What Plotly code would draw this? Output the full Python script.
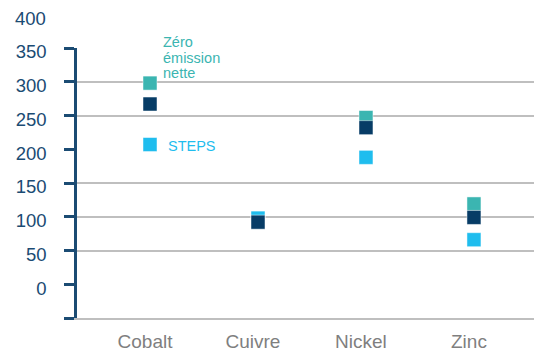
import plotly.graph_objects as go

# Demand by metal and scenario
metals = ["Cobalt", "Cuivre", "Nickel", "Zinc"]
zero_emission = [298, 94, 247, 119]
engagements = [267, 92, 232, 99]
steps = [207, 98, 188, 66]

y_ticks = [-50, 0, 50, 100, 150, 200, 250, 300, 350]
y_tick_text = ["", "0", "50", "100", "150", "200", "250", "300", "350"]
grid_vals = [50, 100, 150, 250, 300, 350]
top_label = 400
zero_label_lines = ["Zéro", "émission", "nette"]

TEAL = "#3bb5b1"
NAVY = "#073c66"
SKY = "#1fbdee"
AXIS_BLUE = "#1b4b73"
GREY = "#bfbfbf"
FONT = "Liberation Sans, Arial, sans-serif"

x_idx = list(range(len(metals)))

fig = go.Figure()
for name, vals, color in [
    ("Zéro émission nette", zero_emission, TEAL),
    ("STEPS", steps, SKY),
    ("Engagements annoncés", engagements, NAVY),
]:
    fig.add_trace(go.Scatter(
        x=x_idx, y=vals, mode="markers", name=name,
        marker=dict(symbol="square", size=14, color=color,
                    line=dict(width=0.6, color="rgba(255,255,255,0.8)")),
        cliponaxis=False,
    ))

# invisible trace on the overlaid axis carrying the grid
fig.add_trace(go.Scatter(x=[0], y=[0], yaxis="y2", mode="markers",
                         marker=dict(opacity=0), showlegend=False, hoverinfo="skip"))

y_range = [-50, 350]
fig.update_layout(
    width=534, height=351,
    margin=dict(l=77, r=0, t=48, b=33),
    paper_bgcolor="white", plot_bgcolor="white",
    showlegend=False,
    font=dict(family=FONT),
    xaxis=dict(
        range=[-0.676, 3.556], tickvals=x_idx, ticktext=metals,
        showgrid=False, zeroline=False,
        showline=True, linecolor=GREY, linewidth=1.5,
        ticks="", tickfont=dict(size=19, color="#7f7f7f"),
        ticklabelstandoff=5, ticklabelshift=-5,
    ),
    yaxis=dict(
        range=y_range, tickvals=y_ticks, ticktext=y_tick_text,
        showgrid=False, zeroline=False,
        showline=True, linecolor=AXIS_BLUE, linewidth=2.5,
        ticks="outside", ticklen=10, tickwidth=2.5, tickcolor=AXIS_BLUE,
        tickfont=dict(size=18.5, color=AXIS_BLUE),
        ticklabelstandoff=14, ticklabelshift=4,
    ),
    yaxis2=dict(
        range=y_range, overlaying="y", tickvals=grid_vals,
        showticklabels=False, showgrid=True, gridcolor=GREY, gridwidth=1.6,
        zeroline=False, showline=False, ticks="",
    ),
)

# top value label above the axis line
fig.add_annotation(
    x=0, xref="paper", xanchor="right", xshift=-29,
    y=(top_label - y_range[0]) / (y_range[1] - y_range[0]), yref="paper",
    yanchor="middle", yshift=-4,
    text=str(top_label), showarrow=False,
    font=dict(size=18.5, color=AXIS_BLUE, family=FONT),
)

# series labels, set line by line for a tight leading
for i, line in enumerate(zero_label_lines):
    fig.add_annotation(
        x=0, xref="x", xanchor="left", xshift=11,
        y=zero_emission[0], yref="y", yanchor="middle",
        yshift=41 - 15.5 * i,
        text=line, align="left", showarrow=False,
        font=dict(size=14.5, color=TEAL, family=FONT),
    )
fig.add_annotation(
    x=0, xref="x", xanchor="left", xshift=16,
    y=steps[0], yref="y", yanchor="middle", yshift=-1,
    text="STEPS", showarrow=False,
    font=dict(size=14.5, color=SKY, family=FONT),
)

fig.write_html("out.html")
